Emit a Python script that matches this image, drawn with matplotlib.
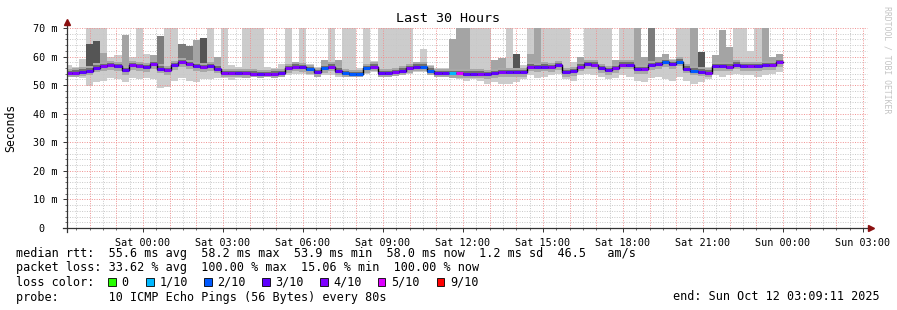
import numpy as np
import matplotlib
matplotlib.use('Agg')
import matplotlib.pyplot as plt
from matplotlib.patches import Rectangle

# median rtt per 16 min step (ms), last step ends Sun 00:00
med = [54.3, 54.4, 54.7, 55.1, 56.1, 56.6, 57.0, 56.6, 55.3, 56.9,
       56.6, 56.2, 57.4, 55.8, 55.3, 57.0, 58.1, 57.4, 56.6, 56.2,
       56.6, 55.8, 54.3, 54.3, 54.3, 54.1, 54.0, 53.9, 53.9, 54.0,
       54.2, 56.0, 56.5, 56.2, 55.6, 54.5, 56.0, 56.5, 55.1, 54.1,
       53.9, 53.9, 56.0, 56.5, 54.1, 54.1, 54.5, 55.1, 56.0, 56.5,
       56.5, 55.1, 54.1, 54.1, 54.1, 54.1, 54.0, 54.0, 54.0, 53.9,
       54.1, 54.5, 54.5, 54.5, 54.5, 56.5, 56.2, 56.5, 56.2, 57.0,
       54.5, 54.8, 56.5, 57.4, 57.2, 56.0, 55.3, 56.0, 57.2, 57.2,
       55.5, 55.5, 57.0, 57.4, 58.0, 57.4, 58.2, 55.8, 55.1, 54.7,
       54.4, 56.7, 56.7, 56.5, 57.2, 56.7, 56.7, 56.7, 57.0, 57.0,
       58.0]

# loss level index per step: 0, 1/10, 2/10, 3/10, 4/10, 5/10, 9/10
loss = [4, 4, 3, 3, 3, 4, 4, 3, 3, 4,
        4, 3, 4, 3, 4, 3, 4, 4, 3, 4,
        3, 3, 4, 4, 3, 4, 4, 3, 4, 4,
        3, 4, 4, 3, 2, 3, 2, 4, 3, 2,
        2, 2, 2, 4, 3, 3, 4, 3, 4, 3,
        2, 2, 3, 3, 1, 5, 3, 3, 4, 3,
        3, 4, 3, 3, 3, 4, 3, 3, 4, 3,
        3, 3, 4, 3, 4, 3, 3, 4, 4, 3,
        3, 4, 3, 3, 2, 3, 2, 3, 2, 3,
        4, 3, 3, 4, 3, 3, 4, 3, 3, 4,
        4]

# outer smoke (highest / lowest ping)
hi = [57.0, 56.5, 59.3, 70, 70, 70, 59.7, 60.5, 67.7, 59.7,
      70, 61.0, 60.5, 67.3, 70, 70, 64.4, 63.8, 65.8, 66.5,
      70, 59.8, 70, 57.0, 56.5, 70, 70, 70, 56.5, 56.0,
      57.5, 70, 58.0, 70, 57.5, 56.5, 58.8, 70, 58.8, 70,
      70, 56.0, 70, 58.5, 70, 70, 70, 70, 70, 58.0,
      62.7, 57.0, 56.0, 56.0, 66.0, 70, 70, 70, 70, 70,
      58.8, 59.5, 70, 61.0, 57.0, 70, 70, 70, 70, 70,
      70, 58.0, 59.7, 70, 70, 70, 70, 58.8, 70, 70,
      70, 59.7, 70, 59.7, 61.0, 59.0, 70, 70, 70, 61.7,
      56.5, 60.5, 69.3, 63.5, 70, 70, 62.0, 70, 70, 60.0,
      61.0]

lo = [52.8, 52.7, 52.5, 49.8, 51.0, 51.5, 52.5, 52.0, 51.0, 52.5,
      52.0, 52.5, 52.0, 49.0, 49.5, 51.5, 52.5, 51.5, 51.0, 52.0,
      52.0, 52.5, 52.5, 51.8, 52.5, 52.5, 52.8, 52.5, 52.8, 52.5,
      52.8, 53.5, 54.0, 53.8, 53.5, 53.0, 53.5, 53.5, 53.0, 53.0,
      52.8, 52.8, 54.0, 54.5, 52.8, 53.0, 53.2, 53.5, 54.0, 54.5,
      54.5, 53.5, 53.0, 52.8, 52.5, 52.0, 51.5, 52.0, 51.5, 50.5,
      51.0, 50.5, 50.5, 51.0, 52.0, 53.5, 52.5, 53.0, 53.5, 54.0,
      52.0, 51.5, 53.5, 54.0, 53.5, 53.0, 52.0, 52.5, 53.5, 53.0,
      51.5, 51.0, 52.5, 53.0, 52.0, 51.5, 53.0, 51.5, 50.5, 51.0,
      52.0, 53.5, 53.0, 53.5, 54.0, 53.5, 53.5, 53.0, 53.5, 54.0,
      54.5]

# denser smoke columns: top value and shade (0 = none)
hi2 = [0, 0, 0, 64.4, 65.3, 61.2, 0, 0, 67.7, 0,
       0, 0, 60.5, 67.3, 0, 0, 64.4, 63.8, 65.8, 66.5,
       0, 59.8, 0, 0, 0, 0, 0, 0, 0, 0,
       0, 0, 0, 0, 0, 0, 58.8, 0, 58.8, 0,
       0, 0, 0, 0, 0, 0, 0, 0, 0, 0,
       0, 0, 0, 0, 66.0, 70, 70, 0, 0, 0,
       58.8, 59.5, 0, 61.0, 0, 60.8, 70, 0, 0, 0,
       0, 0, 59.7, 0, 0, 0, 0, 58.8, 0, 0,
       70, 59.7, 70, 59.7, 61.0, 0, 0, 0, 70, 61.7,
       0, 60.5, 69.3, 63.5, 0, 0, 0, 0, 70, 60.0,
       61.0]
shade2 = [0, 0, 0, 3, 3, 1, 0, 0, 1, 0,
          0, 0, 1, 2, 0, 0, 2, 2, 1, 3,
          0, 1, 0, 0, 0, 0, 0, 0, 0, 0,
          0, 0, 0, 0, 0, 0, 1, 0, 1, 0,
          0, 0, 0, 0, 0, 0, 0, 0, 0, 0,
          0, 0, 0, 0, 1, 1, 1, 0, 0, 0,
          1, 1, 0, 3, 0, 1, 1, 0, 0, 0,
          0, 0, 1, 0, 0, 0, 0, 1, 0, 0,
          1, 1, 2, 1, 1, 0, 0, 0, 1, 3,
          0, 1, 1, 1, 0, 0, 0, 0, 1, 1,
          1]

tick_hours = [0, 3, 6, 9, 12, 15, 18, 21, 24, 27]
tick_labels = ['Sat 00:00', 'Sat 03:00', 'Sat 06:00', 'Sat 09:00', 'Sat 12:00',
               'Sat 15:00', 'Sat 18:00', 'Sat 21:00', 'Sun 00:00', 'Sun 03:00']
loss_names = ['0', '1/10', '2/10', '3/10', '4/10', '5/10', '9/10']
loss_colors = ['#26ff00', '#00b8ff', '#0059ff', '#5e00ff', '#7e00ff', '#dd00ff', '#ff0000']
shade_colors = ['#cccccc', '#a4a4a4', '#7c7c7c', '#555555']

FONT = 'DejaVu Sans Mono'
W, H = 897, 310
STEP = 16 / 60.0
T_END = 24.0
X0, X1 = -2.8464, 27.1536

med = np.array(med)
hi = np.array(hi)
lo = np.array(lo)
hi2 = np.array(hi2)
N = len(med)
t = T_END - (N - np.arange(N)) * STEP

fig = plt.figure(figsize=(W / 100, H / 100), dpi=100)
fig.patch.set_facecolor('white')
ax = fig.add_axes([67 / W, 82 / H, 800 / W, 200 / H])
ax.set_xlim(X0, X1)
ax.set_ylim(0, 70)
for s in ax.spines.values():
    s.set_visible(False)

# smoke
ax.bar(t, hi - lo, bottom=lo, width=STEP, align='edge', color=shade_colors[0], lw=0, zorder=1)
m = hi2 > 0
base = med - 1.3
ax.bar(t[m], (hi2 - base)[m], bottom=base[m], width=STEP, align='edge',
       color=[shade_colors[k] for k in np.array(shade2)[m]], lw=0, zorder=1.2)
mtop = np.minimum(med + 1.5, np.maximum(hi, hi2))
mbot = np.maximum(med - 1.6, lo)
ax.bar(t, mtop - mbot, bottom=mbot, width=STEP, align='edge', color='#a8a8a8', lw=0, zorder=1.3)
ax.bar(t, 1.5, bottom=med - 0.7, width=STEP, align='edge', color='#6e6e6e', lw=0, zorder=1.4)

# grid (above the light smoke only)
for y in range(2, 71, 2):
    major = y % 10 == 0
    ax.axhline(y, color='#f09090' if major else '#c8c8c8', lw=0.7,
               ls=(0, (1, 1.5)), zorder=1.1, clip_on=False)
for h in np.arange(-2.5, X1, 0.5):
    major = float(h).is_integer()
    ax.axvline(h, color='#f09090' if major else '#c8c8c8', lw=0.7,
               ls=(0, (1, 1.5)), zorder=1.1)

# median line coloured by loss
ax.step(np.append(t, T_END), np.append(med, med[-1]), where='post', color='black', lw=1.0, zorder=3)
ax.hlines(med, t, t + STEP, colors=[loss_colors[k] for k in loss], lw=2.2, zorder=4)

# axes with arrows
ax.plot([X0, X0], [-1.4, 72.0], color='#333333', lw=0.9, clip_on=False, zorder=5)
ax.plot([-2.996, 27.2], [0, 0], color='#333333', lw=0.9, clip_on=False, zorder=5)
ax.plot([X0], [72.2], marker='^', color='#8b1010', ms=4, clip_on=False, zorder=6)
ax.plot([27.3], [0], marker='>', color='#8b1010', ms=4, clip_on=False, zorder=6)

ax.set_yticks(range(0, 71, 10))
ax.set_yticklabels(['0  '] + ['%d m' % v for v in range(10, 71, 10)])
ax.set_yticks(range(0, 71, 2), minor=True)
ax.set_xticks(tick_hours)
ax.set_xticklabels(tick_labels)
ax.set_xticks(np.arange(-2.5, X1, 0.5), minor=True)
ax.tick_params(axis='both', which='major', length=3, width=0.7, color='#333333',
               labelsize=7.3, pad=4)
ax.tick_params(axis='both', which='minor', length=1.5, width=0.6, color='#555555')
for lab in ax.get_xticklabels() + ax.get_yticklabels():
    lab.set_family(FONT)

def ftext(x, y, s, **kw):
    kw.setdefault('family', FONT)
    kw.setdefault('va', 'center')
    fig.text(x / W, 1 - y / H, s, **kw)

ftext(448, 19, 'Last 30 Hours', ha='center', size=9.6)
ftext(11, 128, 'Seconds', ha='center', rotation=90, size=8.3)
ftext(887, 60, 'RRDTOOL / TOBI OETIKER', ha='center', rotation=-90, size=5.9, color='#c4c4c4')

ftext(16, 254, 'median rtt:  55.6 ms avg  58.2 ms max  53.9 ms min  58.0 ms now  1.2 ms sd  46.5   am/s', size=8.5)
ftext(16, 268, 'packet loss: 33.62 % avg  100.00 % max  15.06 % min  100.00 % now', size=8.5)
ftext(16, 282, 'loss color:', size=8.5)
label_x = [121.5, 159.5, 217.5, 275.5, 333.5, 391, 450]
for name, col, lx in zip(loss_names, loss_colors, label_x):
    fig.patches.append(Rectangle(((lx - 13.5) / W, 1 - 286 / H), 7.5 / W, 8.5 / H,
                                 transform=fig.transFigure, facecolor=col,
                                 edgecolor='black', lw=0.6))
    ftext(lx, 282, name, size=8.5)
ftext(16, 297, 'probe:       10 ICMP Echo Pings (56 Bytes) every 80s', size=8.5)
ftext(880, 297, 'end: Sun Oct 12 03:09:11 2025', ha='right', size=8.5)

fig.savefig('out.png', dpi=100, facecolor='white')
